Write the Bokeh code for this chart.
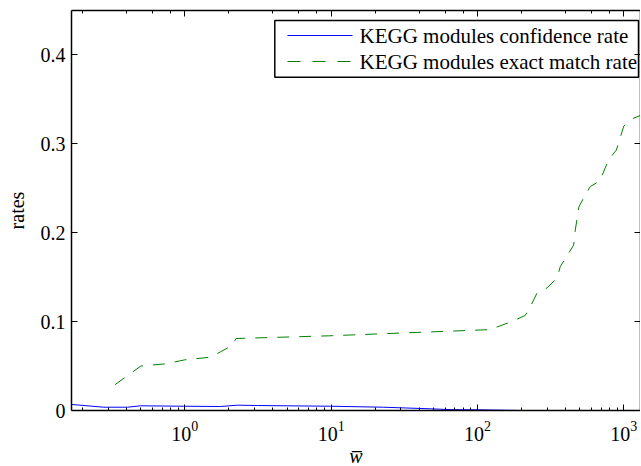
import math
from bokeh.plotting import figure
from bokeh.models import (LogAxis, LinearAxis, FixedTicker, Range1d, CustomJSTickFormatter,
                          BoxAnnotation, Label)
from bokeh.embed import file_html
from bokeh.resources import INLINE

# data
conf_x = [0.168, 0.279, 0.406, 0.498, 0.98, 1.75, 2.29, 3.14, 9.9, 22.7, 47.7, 65, 100, 196, 400, 1300]
conf_y = [0.0068, 0.0037, 0.0037, 0.0053, 0.0048, 0.0045, 0.0060, 0.0056, 0.0048, 0.0037, 0.0019, 0.0010, 0.0008, 0.0, 0.0, 0.0]

exact_x = [0.333, 0.5, 0.74, 1.0, 1.5, 1.75, 2.1, 2.24, 9.6, 122, 177, 212, 230, 255, 299, 350, 368, 420, 454,
           466, 493, 531, 590, 684, 787, 889, 1000, 1137, 1300]
exact_y = [0.029, 0.050, 0.0525, 0.057, 0.060, 0.066, 0.073, 0.081, 0.084, 0.091, 0.101, 0.107, 0.117, 0.132, 0.138,
           0.149, 0.162, 0.177, 0.186, 0.203, 0.229, 0.239, 0.252, 0.258, 0.282, 0.293, 0.320, 0.328, 0.332]

y_ticks = [0, 0.1, 0.2, 0.3, 0.4]
y_tick_labels = ["0", "0.1", "0.2", "0.3", "0.4"]
labels = ["KEGG modules confidence rate", "KEGG modules exact match rate"]
colors = ["#0000ff", "#008000"]
dashes = ["solid", "12 10"]

FONT = "Liberation Serif"
XMIN, XMAX = 0.168, 1300
YMIN, YMAX = 0.0, 0.45
FRAME_W, FRAME_H = 569, 400

p = figure(frame_width=FRAME_W, frame_height=FRAME_H, x_axis_type="log",
           x_range=Range1d(XMIN, XMAX), y_range=Range1d(YMIN, YMAX),
           output_backend="svg", toolbar_location=None,
           min_border_left=71, min_border_right=0, min_border_top=10, min_border_bottom=55)
p.background_fill_color = "white"
p.border_fill_color = "white"
p.outline_line_color = None
p.xgrid.visible = False
p.ygrid.visible = False

p.line(conf_x, conf_y, line_color=colors[0], line_width=1)
p.line(exact_x, exact_y, line_color=colors[1], line_width=1, line_dash=dashes[1])

xa = p.xaxis[0]
xa.axis_label = "w\u0305"
xa.axis_label_text_font = FONT
xa.axis_label_text_font_style = "italic"
xa.axis_label_text_font_size = "20px"
xa.axis_label_standoff = 1
xa.major_label_text_font = FONT
xa.major_label_text_font_size = "20px"
xa.major_label_standoff = 10

ya = p.yaxis[0]
ya.ticker = FixedTicker(ticks=y_ticks)
ya.major_label_overrides = {t: l for t, l in zip(y_ticks, y_tick_labels)}
ya.axis_label = "rates"
ya.axis_label_text_font = FONT
ya.axis_label_text_font_style = "normal"
ya.axis_label_text_font_size = "20px"
ya.axis_label_standoff = 10
ya.major_label_text_font = FONT
ya.major_label_text_font_size = "20px"
ya.major_label_standoff = 6

for ax in (xa, ya):
    ax.axis_line_color = "black"
    ax.axis_line_width = 1.5
    ax.major_tick_in = 6
    ax.major_tick_out = 0
    ax.minor_tick_in = 3
    ax.minor_tick_out = 0
    ax.major_tick_line_color = "black"
    ax.major_label_text_color = "black"
    ax.axis_label_text_color = "black"
xa.minor_tick_line_color = "black"
ya.minor_tick_line_color = None

top = LogAxis(major_tick_in=6, major_tick_out=0, minor_tick_in=3, minor_tick_out=0,
              formatter=CustomJSTickFormatter(code="return ''"), major_label_standoff=0,
              major_label_text_font_size="1px", axis_line_color="black", axis_line_width=1.5)
right = LinearAxis(ticker=FixedTicker(ticks=y_ticks), major_tick_in=6, major_tick_out=0,
                   minor_tick_line_color=None, formatter=CustomJSTickFormatter(code="return ''"),
                   major_label_standoff=0, major_label_text_font_size="1px",
                   axis_line_color="black", axis_line_width=1.5)
p.add_layout(top, "above")
p.add_layout(right, "right")

# hand-built legend, placed by fractions of the frame
def fx(f):
    lo, hi = math.log10(XMIN), math.log10(XMAX)
    return 10 ** (lo + f * (hi - lo))

def fy(f):
    return YMIN + f * (YMAX - YMIN)

box = BoxAnnotation(left=fx(0.3573), right=fx(0.9965), top=fy(0.975), bottom=fy(0.8333),
                    fill_alpha=0, line_color="black", line_alpha=1, line_width=1.5)
p.add_layout(box)

rows = [0.9375, 0.8725]
s0, s1 = 0.3796, 0.4938          # sample start/end as frame fractions
half = 0.55 / FRAME_H            # half a pixel in frame fraction
px = 1.0 / FRAME_W               # one pixel in frame fraction
sample_parts = [
    [(s0, s1)],                                                   # solid
    [(s0, s0 + 13 * px), (s0 + 25 * px, s0 + 38 * px), (s0 + 50 * px, s0 + 63 * px)],  # dashed
]
for lab, col, parts, r in zip(labels, colors, sample_parts, rows):
    p.quad(left=[fx(a) for a, b in parts], right=[fx(b) for a, b in parts],
           bottom=[fy(r - half)] * len(parts), top=[fy(r + half)] * len(parts),
           fill_color=col, fill_alpha=1, line_color=None)
    p.add_layout(Label(x=fx(0.5061), y=fy(r), text=lab, text_font=FONT, text_font_size="21px",
                       text_color="black", text_baseline="middle", text_align="left"))

open("out.html", "w").write(file_html(p, INLINE))
